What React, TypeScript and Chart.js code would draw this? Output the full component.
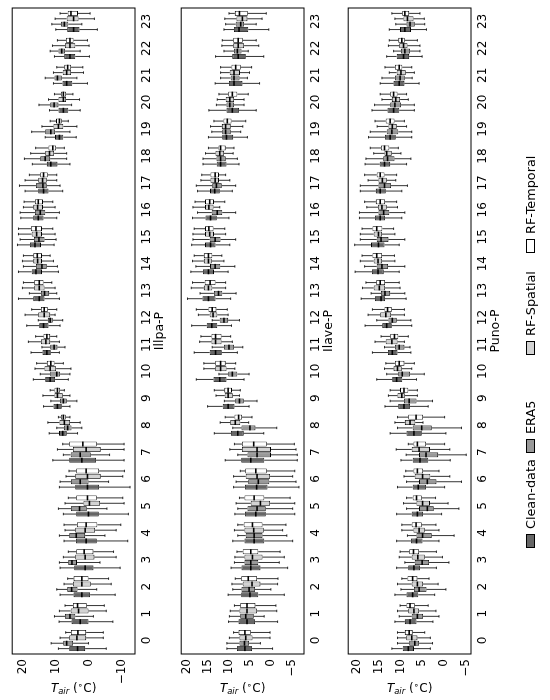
import React, { useEffect, useRef } from 'react';
import { Chart, registerables } from 'chart.js';

Chart.register(...registerables);

// ---------- data ----------
const HOURS = ['0', '1', '2', '3', '4', '5', '6', '7', '8', '9', '10', '11', '12', '13', '14', '15', '16', '17', '18', '19', '20', '21', '22', '23'];
const SERIES_NAMES = ['Clean-data', 'ERA5', 'RF-Spatial', 'RF-Temporal'];
const SERIES_COLORS = ['#666666', '#999999', '#d3d3d3', '#ffffff'];
const PANEL_TITLES = ['Illpa-P', 'Ilave-P', 'Puno-P'];
const Y_MIN = [-13.9, -7.9, -6.3];
const Y_MAX = [23.3, 21.4, 22.1];
const Y_STEP = [10, 5, 5];

// each entry: [lower whisker, Q1, median, Q3, upper whisker]
const ILLPA_CLEAN = [
  [-5.2, 1.2, 3.5, 6.0, 9.3], [-7.2, 0.2, 2.7, 5.3, 9.1], [-7.9, -0.3, 2.2, 4.7, 8.8], [-9.4, -1.3, 1.2, 4.5, 8.8],
  [-11.7, -2.3, 0.9, 4.0, 7.6], [-11.9, -2.9, 0.2, 3.9, 7.8], [-12.4, -3.0, 0.5, 4.2, 9.0], [-10.6, -2.1, 2.2, 6.0, 11.0],
  [3.5, 6.8, 8.0, 9.1, 12.1], [5.8, 8.3, 9.6, 10.8, 13.8], [6.3, 10.3, 11.8, 13.3, 16.9], [9.0, 11.6, 12.8, 14.1, 17.6],
  [8.8, 12.3, 13.8, 15.1, 18.9], [9.0, 13.5, 15.1, 16.9, 21.4], [9.3, 14.3, 16.1, 17.4, 21.4], [10.6, 14.6, 16.4, 17.9, 21.7],
  [9.8, 13.8, 15.4, 16.9, 20.7], [8.0, 12.3, 13.8, 15.4, 19.4], [5.8, 9.6, 11.6, 12.8, 17.2], [3.9, 7.8, 9.0, 10.3, 13.3],
  [2.7, 6.3, 7.8, 9.3, 12.0], [0.5, 5.1, 6.8, 8.1, 10.8], [-0.1, 4.2, 5.8, 7.5, 10.5], [-2.5, 2.9, 4.7, 6.6, 10.1],
];
const ILLPA_ERA5 = [
  [0.2, 4.9, 6.8, 7.8, 11.5], [-1.3, 4.2, 5.8, 7.3, 10.5], [-2.3, 3.5, 5.3, 6.6, 9.8], [-3.3, 3.7, 5.2, 6.3, 9.0],
  [-4.8, 1.2, 3.9, 6.0, 9.0], [-5.4, 0.7, 2.9, 5.5, 9.3], [-5.9, 0.2, 2.7, 5.5, 8.8], [-6.2, -0.5, 2.7, 5.6, 7.8],
  [2.2, 5.3, 6.5, 7.6, 9.8], [3.7, 6.8, 7.8, 8.8, 11.6], [5.8, 8.8, 9.8, 11.8, 14.8], [7.3, 9.6, 10.6, 11.8, 14.3],
  [8.0, 11.0, 11.8, 12.5, 15.4], [9.8, 12.1, 13.5, 14.6, 18.1], [9.6, 12.8, 14.3, 16.1, 19.9], [10.0, 13.5, 15.2, 16.7, 20.9],
  [9.0, 13.3, 14.8, 16.4, 20.9], [8.8, 12.8, 14.0, 16.1, 21.1], [6.8, 11.8, 13.3, 14.8, 19.6], [5.8, 10.3, 11.6, 13.3, 17.4],
  [5.3, 9.3, 10.6, 11.8, 15.2], [3.7, 8.3, 9.6, 10.5, 13.3], [2.7, 7.3, 8.3, 9.3, 11.8], [2.2, 6.3, 7.5, 8.5, 11.3],
];
const ILLPA_SPATIAL = [
  [-4.3, 0.9, 3.7, 6.0, 8.8], [-5.2, 0.2, 3.2, 5.6, 9.0], [-6.7, -0.5, 2.2, 4.9, 7.6], [-8.2, -1.6, 1.2, 4.2, 7.8],
  [-8.2, -1.8, 1.2, 4.2, 7.3], [-10.6, -3.3, -0.1, 1.7, 7.3], [-10.2, -3.5, 0.5, 4.2, 7.0], [-10.6, -3.5, 0.9, 4.9, 9.6],
  [2.7, 5.8, 7.5, 9.0, 12.5], [5.8, 8.0, 9.6, 10.5, 14.0], [5.5, 10.0, 11.8, 13.5, 16.4], [9.0, 11.8, 13.1, 14.6, 18.4],
  [10.3, 11.8, 13.6, 15.4, 19.4], [10.3, 13.5, 15.1, 16.6, 20.2], [10.8, 14.3, 15.6, 16.9, 20.2], [10.3, 14.3, 15.9, 17.4, 21.4],
  [10.3, 14.0, 15.6, 16.9, 19.9], [9.8, 12.8, 14.1, 15.4, 19.4], [6.8, 10.6, 12.0, 13.3, 17.7], [3.7, 7.8, 9.3, 10.8, 14.3],
  [2.9, 7.0, 7.8, 9.3, 12.3], [1.7, 5.5, 6.8, 8.0, 10.8], [0.0, 4.2, 5.8, 7.3, 11.1], [-1.6, 3.2, 4.7, 6.8, 10.3],
];
const ILLPA_TEMPORAL = [
  [-4.3, 0.9, 3.4, 5.5, 7.1], [-4.6, 0.7, 3.5, 4.9, 7.3], [-5.9, 0.2, 2.2, 4.7, 6.5], [-7.4, -1.3, 1.5, 3.9, 6.3],
  [-9.6, -2.5, 0.9, 3.7, 7.6], [-10.2, -2.3, 0.5, 3.9, 6.3], [-10.7, -3.0, 0.9, 3.9, 6.1], [-10.6, -2.3, 1.9, 6.0, 8.0],
  [5.8, 7.1, 7.8, 8.5, 9.3], [7.5, 8.8, 9.6, 10.5, 11.8], [7.8, 10.5, 11.6, 12.8, 15.9], [9.8, 11.8, 12.8, 13.8, 16.2],
  [9.8, 12.5, 13.6, 14.6, 17.4], [11.3, 13.8, 15.1, 16.6, 19.9], [11.8, 14.3, 15.7, 16.9, 19.9], [11.0, 14.3, 16.1, 17.6, 21.4],
  [11.0, 14.0, 15.4, 16.4, 19.7], [9.8, 12.5, 13.8, 14.8, 18.1], [7.5, 10.0, 11.0, 12.3, 16.2], [6.3, 8.3, 9.0, 10.0, 11.8],
  [4.9, 7.0, 7.8, 8.5, 10.5], [1.9, 5.5, 6.5, 7.5, 9.8], [0.5, 4.7, 5.8, 7.0, 9.6], [-0.3, 3.4, 5.5, 6.5, 8.8],
];

const ILAVE_CLEAN = [
  [-0.4, 4.5, 6.2, 8.1, 10.5], [-1.6, 3.8, 5.7, 7.7, 10.1], [-3.2, 3.0, 5.0, 7.1, 10.2], [-4.0, 2.5, 4.8, 7.0, 9.5],
  [-5.2, 1.6, 4.0, 6.3, 9.1], [-5.7, 1.2, 3.6, 6.2, 8.6], [-6.7, 0.8, 3.4, 6.2, 8.9], [-6.3, 1.6, 4.8, 7.1, 10.9],
  [1.7, 6.5, 7.9, 9.5, 13.5], [5.2, 8.7, 10.2, 11.5, 15.1], [6.4, 10.6, 12.2, 13.7, 17.8], [8.0, 11.7, 13.2, 14.6, 18.3],
  [9.4, 12.8, 14.1, 15.3, 18.9], [9.6, 13.2, 14.9, 16.3, 19.9], [10.2, 13.6, 14.9, 16.2, 19.1], [9.8, 13.2, 14.4, 15.7, 18.9],
  [10.0, 12.9, 14.4, 15.6, 18.7], [9.2, 12.2, 13.4, 14.5, 17.5], [7.6, 10.6, 12.0, 12.9, 16.2], [5.6, 9.0, 10.6, 11.6, 14.9],
  [3.5, 7.6, 9.2, 10.6, 14.8], [2.7, 6.8, 8.8, 10.0, 13.3], [1.7, 6.0, 7.8, 9.2, 13.2], [0.5, 5.4, 7.6, 8.8, 11.2],
];
const ILAVE_ERA5 = [
  [2.5, 5.2, 6.3, 7.5, 10.5], [1.6, 4.1, 6.0, 7.3, 9.9], [0.0, 3.8, 5.2, 7.0, 9.1], [-2.0, 3.0, 4.8, 6.3, 8.7],
  [-3.8, 2.0, 4.0, 6.0, 7.9], [-5.2, 1.2, 3.3, 5.6, 7.9], [-6.0, 0.4, 3.0, 5.4, 8.3], [-6.3, 0.0, 3.3, 5.6, 7.9],
  [-1.4, 3.7, 5.0, 7.0, 9.1], [3.3, 6.5, 7.5, 8.5, 11.1], [5.2, 8.0, 9.2, 10.2, 12.4], [6.7, 8.8, 10.0, 11.2, 14.0],
  [7.5, 10.2, 11.2, 12.2, 14.0], [8.3, 11.6, 12.5, 13.6, 16.9], [8.6, 12.1, 13.3, 14.5, 17.9], [8.4, 12.0, 13.3, 14.6, 18.6],
  [8.4, 11.6, 12.8, 14.1, 17.5], [8.4, 11.7, 13.0, 14.0, 17.8], [8.0, 10.8, 12.0, 13.0, 16.2], [7.2, 9.6, 10.8, 11.6, 14.1],
  [6.4, 8.8, 9.8, 10.6, 13.0], [5.6, 7.5, 8.8, 9.6, 12.0], [5.4, 7.0, 8.0, 8.8, 11.2], [3.5, 6.4, 7.2, 8.4, 10.8],
];
const ILAVE_SPATIAL = [
  [0.2, 4.4, 6.0, 7.5, 9.9], [-1.4, 3.3, 5.7, 7.5, 9.7], [-1.6, 2.5, 4.5, 6.7, 9.3], [-3.2, 2.0, 4.4, 6.3, 8.6],
  [-2.8, 1.7, 4.1, 6.3, 8.7], [-5.7, 0.2, 2.5, 4.8, 8.3], [-5.2, 0.2, 3.3, 6.0, 8.9], [-6.0, 0.0, 3.3, 6.9, 9.8],
  [5.3, 7.3, 8.5, 9.7, 12.1], [7.5, 9.1, 10.2, 11.0, 13.1], [8.6, 10.6, 12.0, 13.3, 16.0], [9.2, 11.8, 13.2, 14.2, 17.0],
  [10.2, 12.8, 13.8, 14.6, 17.3], [10.8, 14.0, 14.9, 16.0, 19.0], [11.2, 14.1, 14.9, 16.0, 18.7], [10.8, 13.6, 14.6, 15.7, 18.6],
  [12.2, 13.7, 14.8, 15.7, 18.6], [9.8, 12.4, 13.3, 14.4, 16.7], [9.0, 11.2, 12.2, 13.2, 15.6], [6.7, 9.6, 10.8, 11.7, 14.4],
  [6.4, 8.8, 9.8, 10.8, 12.8], [5.1, 7.4, 8.8, 9.8, 12.0], [2.9, 6.4, 7.8, 9.0, 11.7], [2.1, 5.6, 6.8, 8.2, 11.0],
];
const ILAVE_TEMPORAL = [
  [0.2, 4.8, 6.2, 7.7, 8.9], [-1.2, 3.7, 5.7, 7.3, 8.7], [-1.7, 3.3, 5.4, 7.1, 8.5], [-2.2, 3.0, 4.8, 6.7, 8.1],
  [-3.6, 2.0, 4.4, 6.5, 7.9], [-4.6, 1.6, 4.0, 6.3, 7.5], [-5.7, 1.0, 3.6, 6.1, 7.3], [-5.6, 1.0, 4.1, 6.9, 8.7],
  [4.5, 6.9, 7.7, 8.7, 10.9], [7.3, 9.3, 10.2, 11.1, 13.5], [8.4, 10.8, 12.0, 13.3, 16.0], [9.6, 11.8, 13.2, 14.2, 16.7],
  [10.4, 13.0, 14.0, 14.9, 17.8], [10.8, 13.2, 14.5, 15.8, 18.7], [11.7, 14.0, 14.9, 16.0, 18.3], [11.0, 13.7, 14.8, 15.7, 18.3],
  [11.0, 13.6, 14.6, 15.7, 18.1], [10.8, 12.4, 13.3, 14.4, 16.5], [8.8, 10.8, 12.0, 12.5, 14.9], [6.0, 9.4, 10.4, 11.3, 13.6],
  [5.4, 8.0, 9.2, 10.2, 12.4], [4.6, 7.2, 8.4, 9.4, 12.0], [3.5, 6.7, 7.8, 9.0, 11.6], [1.1, 5.5, 7.5, 8.6, 10.0],
];

const PUNO_CLEAN = [
  [3.1, 6.9, 8.2, 9.5, 12.0], [2.5, 6.3, 7.8, 9.0, 11.3], [2.1, 5.9, 7.2, 8.6, 11.3], [1.7, 5.5, 6.9, 8.2, 10.9],
  [1.1, 4.9, 6.3, 7.6, 10.9], [0.5, 4.8, 6.1, 7.4, 10.9], [-0.2, 4.1, 5.9, 7.2, 10.7], [-1.5, 3.6, 5.5, 7.2, 9.9],
  [-0.5, 5.1, 6.9, 8.6, 12.4], [3.6, 7.8, 9.2, 10.5, 13.6], [6.3, 9.6, 10.9, 11.9, 15.5], [7.6, 10.7, 11.9, 12.9, 16.5],
  [7.4, 12.0, 13.2, 14.2, 18.2], [8.7, 13.6, 14.5, 15.9, 19.1], [10.3, 13.9, 15.2, 16.6, 20.5], [10.3, 13.7, 15.1, 16.8, 20.6],
  [9.7, 13.6, 14.7, 15.9, 19.5], [9.7, 13.4, 14.7, 15.7, 19.3], [8.6, 12.4, 13.7, 14.8, 18.2], [7.4, 11.1, 12.4, 13.6, 17.4],
  [6.8, 10.3, 11.6, 13.0, 16.6], [5.7, 9.1, 10.3, 11.6, 14.7], [5.0, 8.0, 9.3, 10.9, 13.2], [4.0, 7.6, 9.0, 10.1, 12.6],
];
const PUNO_ERA5 = [
  [2.6, 5.7, 6.7, 8.0, 10.7], [1.1, 4.8, 6.1, 7.4, 10.3], [-0.5, 4.0, 5.7, 6.9, 9.9], [-1.2, 3.4, 5.0, 6.7, 9.0],
  [-2.4, 2.8, 4.9, 6.3, 8.4], [-3.5, 2.3, 3.8, 5.7, 8.6], [-4.1, 1.7, 3.8, 5.7, 8.6], [-5.2, 1.3, 4.1, 5.7, 8.7],
  [-4.1, 2.8, 5.1, 7.2, 10.7], [2.6, 6.3, 8.0, 9.2, 12.4], [4.5, 7.8, 9.6, 10.5, 13.2], [7.8, 9.1, 10.3, 11.3, 13.7],
  [7.6, 10.9, 11.9, 12.8, 15.5], [9.0, 12.4, 13.6, 14.5, 16.8], [9.0, 12.9, 14.3, 15.5, 18.3], [9.0, 12.8, 14.5, 15.5, 19.3],
  [9.0, 12.6, 13.9, 15.1, 19.5], [8.4, 12.2, 13.7, 15.1, 19.3], [7.6, 11.4, 13.0, 14.0, 18.0], [7.4, 10.5, 12.0, 13.2, 17.0],
  [6.8, 9.9, 11.3, 12.4, 16.0], [7.3, 9.0, 10.1, 11.3, 14.3], [5.5, 7.8, 9.0, 9.9, 11.6], [4.4, 6.7, 7.8, 8.6, 11.1],
];
const PUNO_SPATIAL = [
  [3.1, 6.1, 7.4, 8.7, 10.7], [1.8, 5.7, 6.9, 8.2, 10.7], [1.3, 4.8, 6.1, 7.4, 10.7], [0.3, 4.4, 6.0, 7.4, 10.3],
  [1.1, 4.4, 5.7, 7.0, 9.7], [-1.0, 3.2, 4.9, 6.3, 9.3], [-1.4, 3.1, 4.9, 6.7, 9.2], [-1.4, 3.2, 5.7, 7.4, 11.0],
  [4.8, 6.6, 7.8, 9.0, 11.3], [6.1, 9.0, 9.7, 10.7, 12.8], [7.4, 9.7, 10.7, 11.6, 13.7], [9.1, 10.7, 12.0, 13.4, 15.9],
  [9.1, 12.2, 13.4, 14.7, 17.5], [10.1, 13.6, 14.9, 16.2, 18.8], [11.3, 14.3, 15.2, 16.2, 19.3], [11.3, 14.3, 15.1, 16.2, 19.3],
  [10.7, 13.2, 14.3, 15.2, 17.8], [11.1, 13.2, 14.2, 15.1, 17.5], [9.9, 12.0, 13.2, 13.7, 16.2], [8.6, 10.9, 11.9, 12.8, 15.4],
  [8.2, 10.1, 11.1, 12.0, 14.3], [6.8, 8.8, 9.9, 10.9, 12.6], [5.5, 8.4, 9.3, 10.3, 12.8], [4.5, 7.0, 8.4, 9.3, 11.3],
];
const PUNO_TEMPORAL = [
  [4.4, 7.2, 8.0, 9.0, 10.7], [3.6, 6.7, 7.8, 8.6, 10.1], [3.4, 6.1, 7.2, 8.4, 9.7], [1.7, 5.7, 7.0, 8.0, 10.1],
  [1.8, 5.1, 6.4, 7.4, 9.7], [1.9, 5.1, 6.3, 7.2, 8.6], [1.1, 4.8, 6.1, 7.0, 8.8], [-0.2, 4.1, 6.1, 7.0, 8.2],
  [-0.2, 4.8, 6.4, 8.2, 10.7], [6.1, 8.2, 9.2, 10.1, 12.4], [6.8, 9.1, 10.3, 11.3, 13.4], [8.2, 10.5, 11.4, 12.4, 14.5],
  [9.1, 12.0, 13.0, 13.7, 16.5], [10.3, 13.6, 14.7, 15.6, 18.0], [11.4, 14.3, 15.5, 16.5, 18.9], [11.6, 14.2, 15.5, 16.5, 18.9],
  [10.9, 13.6, 14.7, 15.7, 18.3], [10.9, 13.7, 14.7, 15.5, 18.3], [10.5, 12.6, 13.7, 14.5, 17.0], [9.1, 11.4, 12.4, 13.4, 15.9],
  [8.6, 10.7, 11.6, 12.4, 14.7], [7.4, 9.6, 10.3, 11.3, 13.6], [6.1, 9.0, 9.7, 10.5, 12.6], [5.5, 8.0, 9.0, 9.6, 12.0],
];

const PANEL_DATA = [
  [ILLPA_CLEAN, ILLPA_ERA5, ILLPA_SPATIAL, ILLPA_TEMPORAL],
  [ILAVE_CLEAN, ILAVE_ERA5, ILAVE_SPATIAL, ILAVE_TEMPORAL],
  [PUNO_CLEAN, PUNO_ERA5, PUNO_SPATIAL, PUNO_TEMPORAL],
];

// ---------- styling / layout ----------
const FAMILY = '"DejaVu Sans", sans-serif';
const FONT_SIZE = 12;
const PANEL_TOPS = [0, 169, 336];
const CANVAS_W = 700;
const CANVAS_H = 171;
const LEGEND_LEFTS = [152, 247, 345, 447];

const boxPlugin = {
  id: 'boxWhiskers',
  afterDatasetsDraw(chart: any) {
    const ctx = chart.ctx;
    const ys = chart.scales.y;
    ctx.save();
    ctx.strokeStyle = '#000';
    chart.data.datasets.forEach((ds: any, di: number) => {
      const meta = chart.getDatasetMeta(di);
      meta.data.forEach((bar: any, i: number) => {
        const s = ds.stats[i];
        const x = bar.x;
        const w = bar.width;
        const pLo = ys.getPixelForValue(s[0]);
        const pQ1 = ys.getPixelForValue(s[1]);
        const pMed = ys.getPixelForValue(s[2]);
        const pQ3 = ys.getPixelForValue(s[3]);
        const pHi = ys.getPixelForValue(s[4]);
        ctx.lineWidth = 0.8;
        ctx.beginPath();
        ctx.moveTo(x, pQ1); ctx.lineTo(x, pLo);
        ctx.moveTo(x, pQ3); ctx.lineTo(x, pHi);
        ctx.moveTo(x - w / 4, pLo); ctx.lineTo(x + w / 4, pLo);
        ctx.moveTo(x - w / 4, pHi); ctx.lineTo(x + w / 4, pHi);
        ctx.stroke();
        ctx.lineWidth = 1.6;
        ctx.beginPath();
        ctx.moveTo(x - w / 2, pMed); ctx.lineTo(x + w / 2, pMed);
        ctx.stroke();
      });
    });
    const a = chart.chartArea;
    ctx.lineWidth = 1;
    ctx.strokeRect(a.left, a.top, a.right - a.left, a.bottom - a.top);
    ctx.restore();
  },
  afterDraw(chart: any) {
    const ctx = chart.ctx;
    const a = chart.chartArea;
    const cy = (a.top + a.bottom) / 2;
    const parts = [
      { t: 'T', font: `italic ${FONT_SIZE}px ${FAMILY}`, dy: 0 },
      { t: 'air', font: `italic ${FONT_SIZE * 0.7}px ${FAMILY}`, dy: 2.5 },
      { t: ' (', font: `${FONT_SIZE}px ${FAMILY}`, dy: 0 },
      { t: '\u2218', font: `${FONT_SIZE * 0.75}px ${FAMILY}`, dy: -4 },
      { t: 'C)', font: `${FONT_SIZE}px ${FAMILY}`, dy: 0 },
    ];
    ctx.save();
    ctx.translate(12, cy);
    ctx.rotate(Math.PI / 2);
    ctx.fillStyle = '#000';
    ctx.textBaseline = 'alphabetic';
    let total = 0;
    const widths = parts.map((p) => { ctx.font = p.font; const w = ctx.measureText(p.t).width; total += w; return w; });
    let x = -total / 2;
    parts.forEach((p, i) => {
      ctx.font = p.font;
      ctx.fillText(p.t, x, 4 + p.dy);
      x += widths[i];
    });
    ctx.restore();
  },
};

function Panel({ index }: { index: number }) {
  const ref = useRef<HTMLCanvasElement | null>(null);
  useEffect(() => {
    const series = PANEL_DATA[index];
    const font = { family: FAMILY, size: FONT_SIZE };
    const chart = new Chart(ref.current as HTMLCanvasElement, {
      type: 'bar',
      data: {
        labels: HOURS,
        datasets: series.map((stats, si) => ({
          label: SERIES_NAMES[si],
          data: stats.map((s) => [s[1], s[3]]),
          stats,
          backgroundColor: SERIES_COLORS[si],
          borderColor: '#000',
          borderWidth: 0.8,
          borderSkipped: false,
          categoryPercentage: 0.8,
          barPercentage: 0.92,
        })) as any,
      },
      options: {
        responsive: false,
        animation: false,
        devicePixelRatio: 1,
        layout: { padding: { top: 12, right: 8, left: 0, bottom: 0 } },
        plugins: { legend: { display: false }, tooltip: { enabled: false } },
        scales: {
          x: {
            grid: { display: false, drawTicks: false, offset: false },
            border: { display: false },
            ticks: { font, color: '#000', padding: 5, maxRotation: 0, autoSkip: false },
            title: { display: true, text: PANEL_TITLES[index], font: { family: FAMILY, size: 12.5 }, color: '#000', padding: { top: 0, bottom: 4 } },
            afterFit: (s: any) => { s.height = 36; },
          },
          y: {
            min: Y_MIN[index],
            max: Y_MAX[index],
            grid: { display: false, drawTicks: false },
            border: { display: false },
            ticks: {
              stepSize: Y_STEP[index],
              includeBounds: false,
              font,
              color: '#000',
              padding: 5,
              callback: (v: any) => String(v).replace('-', '\u2212'),
            },
            afterFit: (s: any) => { s.width = 46; },
          },
        },
      } as any,
      plugins: [boxPlugin],
    });
    return () => chart.destroy();
  }, [index]);
  return (
    <canvas
      ref={ref}
      width={CANVAS_W}
      height={CANVAS_H}
      style={{ position: 'absolute', left: 0, top: PANEL_TOPS[index], width: CANVAS_W, height: CANVAS_H }}
    />
  );
}

function Legend() {
  return (
    <>
      {SERIES_NAMES.map((name, i) => (
        <div
          key={name}
          style={{
            position: 'absolute', left: LEGEND_LEFTS[i], top: 521, height: 18, display: 'flex', alignItems: 'center',
            fontFamily: FAMILY, fontSize: 12.8, color: '#000', whiteSpace: 'nowrap',
          }}
        >
          <div style={{ width: 14, height: 9, background: SERIES_COLORS[i], border: '1px solid #000', boxSizing: 'border-box', marginRight: 5 }} />
          <span>{name}</span>
        </div>
      ))}
    </>
  );
}

export default function App() {
  return (
    <div
      style={{
        position: 'fixed', left: 0, top: 0, width: 700, height: 550, background: '#fff',
        transformOrigin: '0 0', transform: 'translateY(700px) rotate(-90deg)',
      }}
    >
      <Panel index={0} />
      <Panel index={1} />
      <Panel index={2} />
      <Legend />
    </div>
  );
}
